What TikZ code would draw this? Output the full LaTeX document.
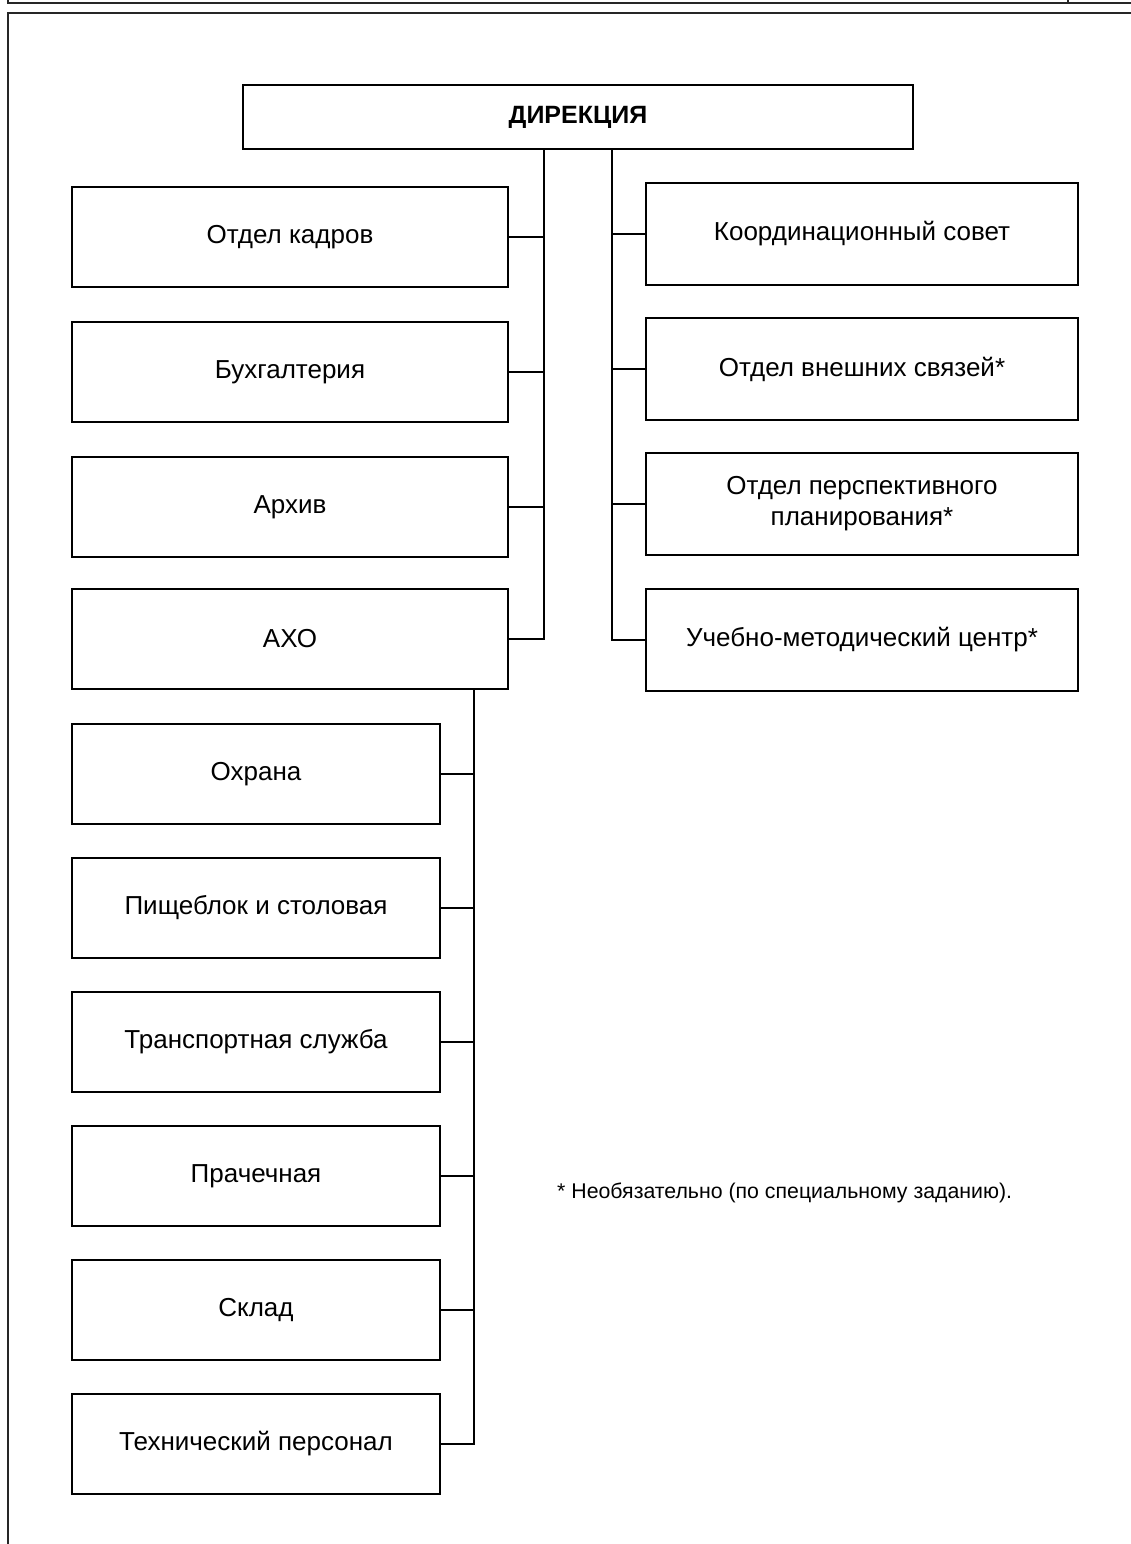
\documentclass[tikz,border=0pt]{standalone}
\usepackage{fontspec}
\setmainfont{Liberation Sans}
\begin{document}
\begin{tikzpicture}[x=1pt,y=-1pt,
  box/.style={draw=black,line width=2.2pt,rectangle,inner sep=0pt,align=center,
    font=\fontsize{26}{31}\selectfont},
  lbox/.style={box,minimum width=436pt,minimum height=100pt},
  rbox/.style={box,minimum width=432pt,minimum height=102pt},
  bbox/.style={box,minimum width=368pt,minimum height=100pt},
  conn/.style={draw=black,line width=2pt},
  frame/.style={draw=black!85,line width=2.6pt}]
\useasboundingbox (0,0) rectangle (1131,1544);
% page frame
\draw[frame] (8,0) -- (8,3) -- (1131,3);
\draw[frame] (1068,0) -- (1068,3);
\draw[frame] (8,1544) -- (8,13) -- (1131,13);
% spine coordinates
\coordinate (lsp) at (544,0);
\coordinate (rsp) at (612,0);
\coordinate (asp) at (474,0);
% top
\node[box,minimum width=670pt,minimum height=64pt,font=\fontsize{25}{30}\selectfont\bfseries] (dir) at (578,117) {ДИРЕКЦИЯ};
% left column
\node[lbox] (kadr) at (290,237) {Отдел кадров};
\node[lbox] (buh) at (290,372) {Бухгалтерия};
\node[lbox] (arh) at (290,507) {Архив};
\node[lbox] (aho) at (290,639) {АХО};
% right column
\node[rbox] (koord) at (862,234) {Координационный совет};
\node[rbox] (vnesh) at (862,369) {Отдел внешних связей*};
\node[rbox] (persp) at (862,504) {Отдел перспективного\\планирования*};
\node[rbox] (ucheb) at (862,640) {Учебно-методический центр*};
% lower column
\node[bbox] (ohr) at (256,774) {Охрана};
\node[bbox] (pish) at (256,908) {Пищеблок и столовая};
\node[bbox] (trans) at (256,1042) {Транспортная служба};
\node[bbox] (prach) at (256,1176) {Прачечная};
\node[bbox] (sklad) at (256,1310) {Склад};
\node[bbox] (tech) at (256,1444) {Технический персонал};
% footnote
\node[anchor=west,inner sep=0pt,font=\fontsize{21.3}{25}\selectfont] (note) at (557,1193) {* Необязательно (по специальному заданию).};
% left spine
\draw[conn] (dir.south -| lsp) |- (aho.east);
\foreach \n in {kadr,buh,arh}{\draw[conn] (\n.east) -- (\n.east -| lsp);}
% right spine
\draw[conn] (dir.south -| rsp) |- (ucheb.west);
\foreach \n in {koord,vnesh,persp}{\draw[conn] (\n.west) -- (\n.west -| rsp);}
% AHO spine
\draw[conn] (aho.south -| asp) |- (tech.east);
\foreach \n in {ohr,pish,trans,prach,sklad}{\draw[conn] (\n.east) -- (\n.east -| asp);}
\end{tikzpicture}
\end{document}
